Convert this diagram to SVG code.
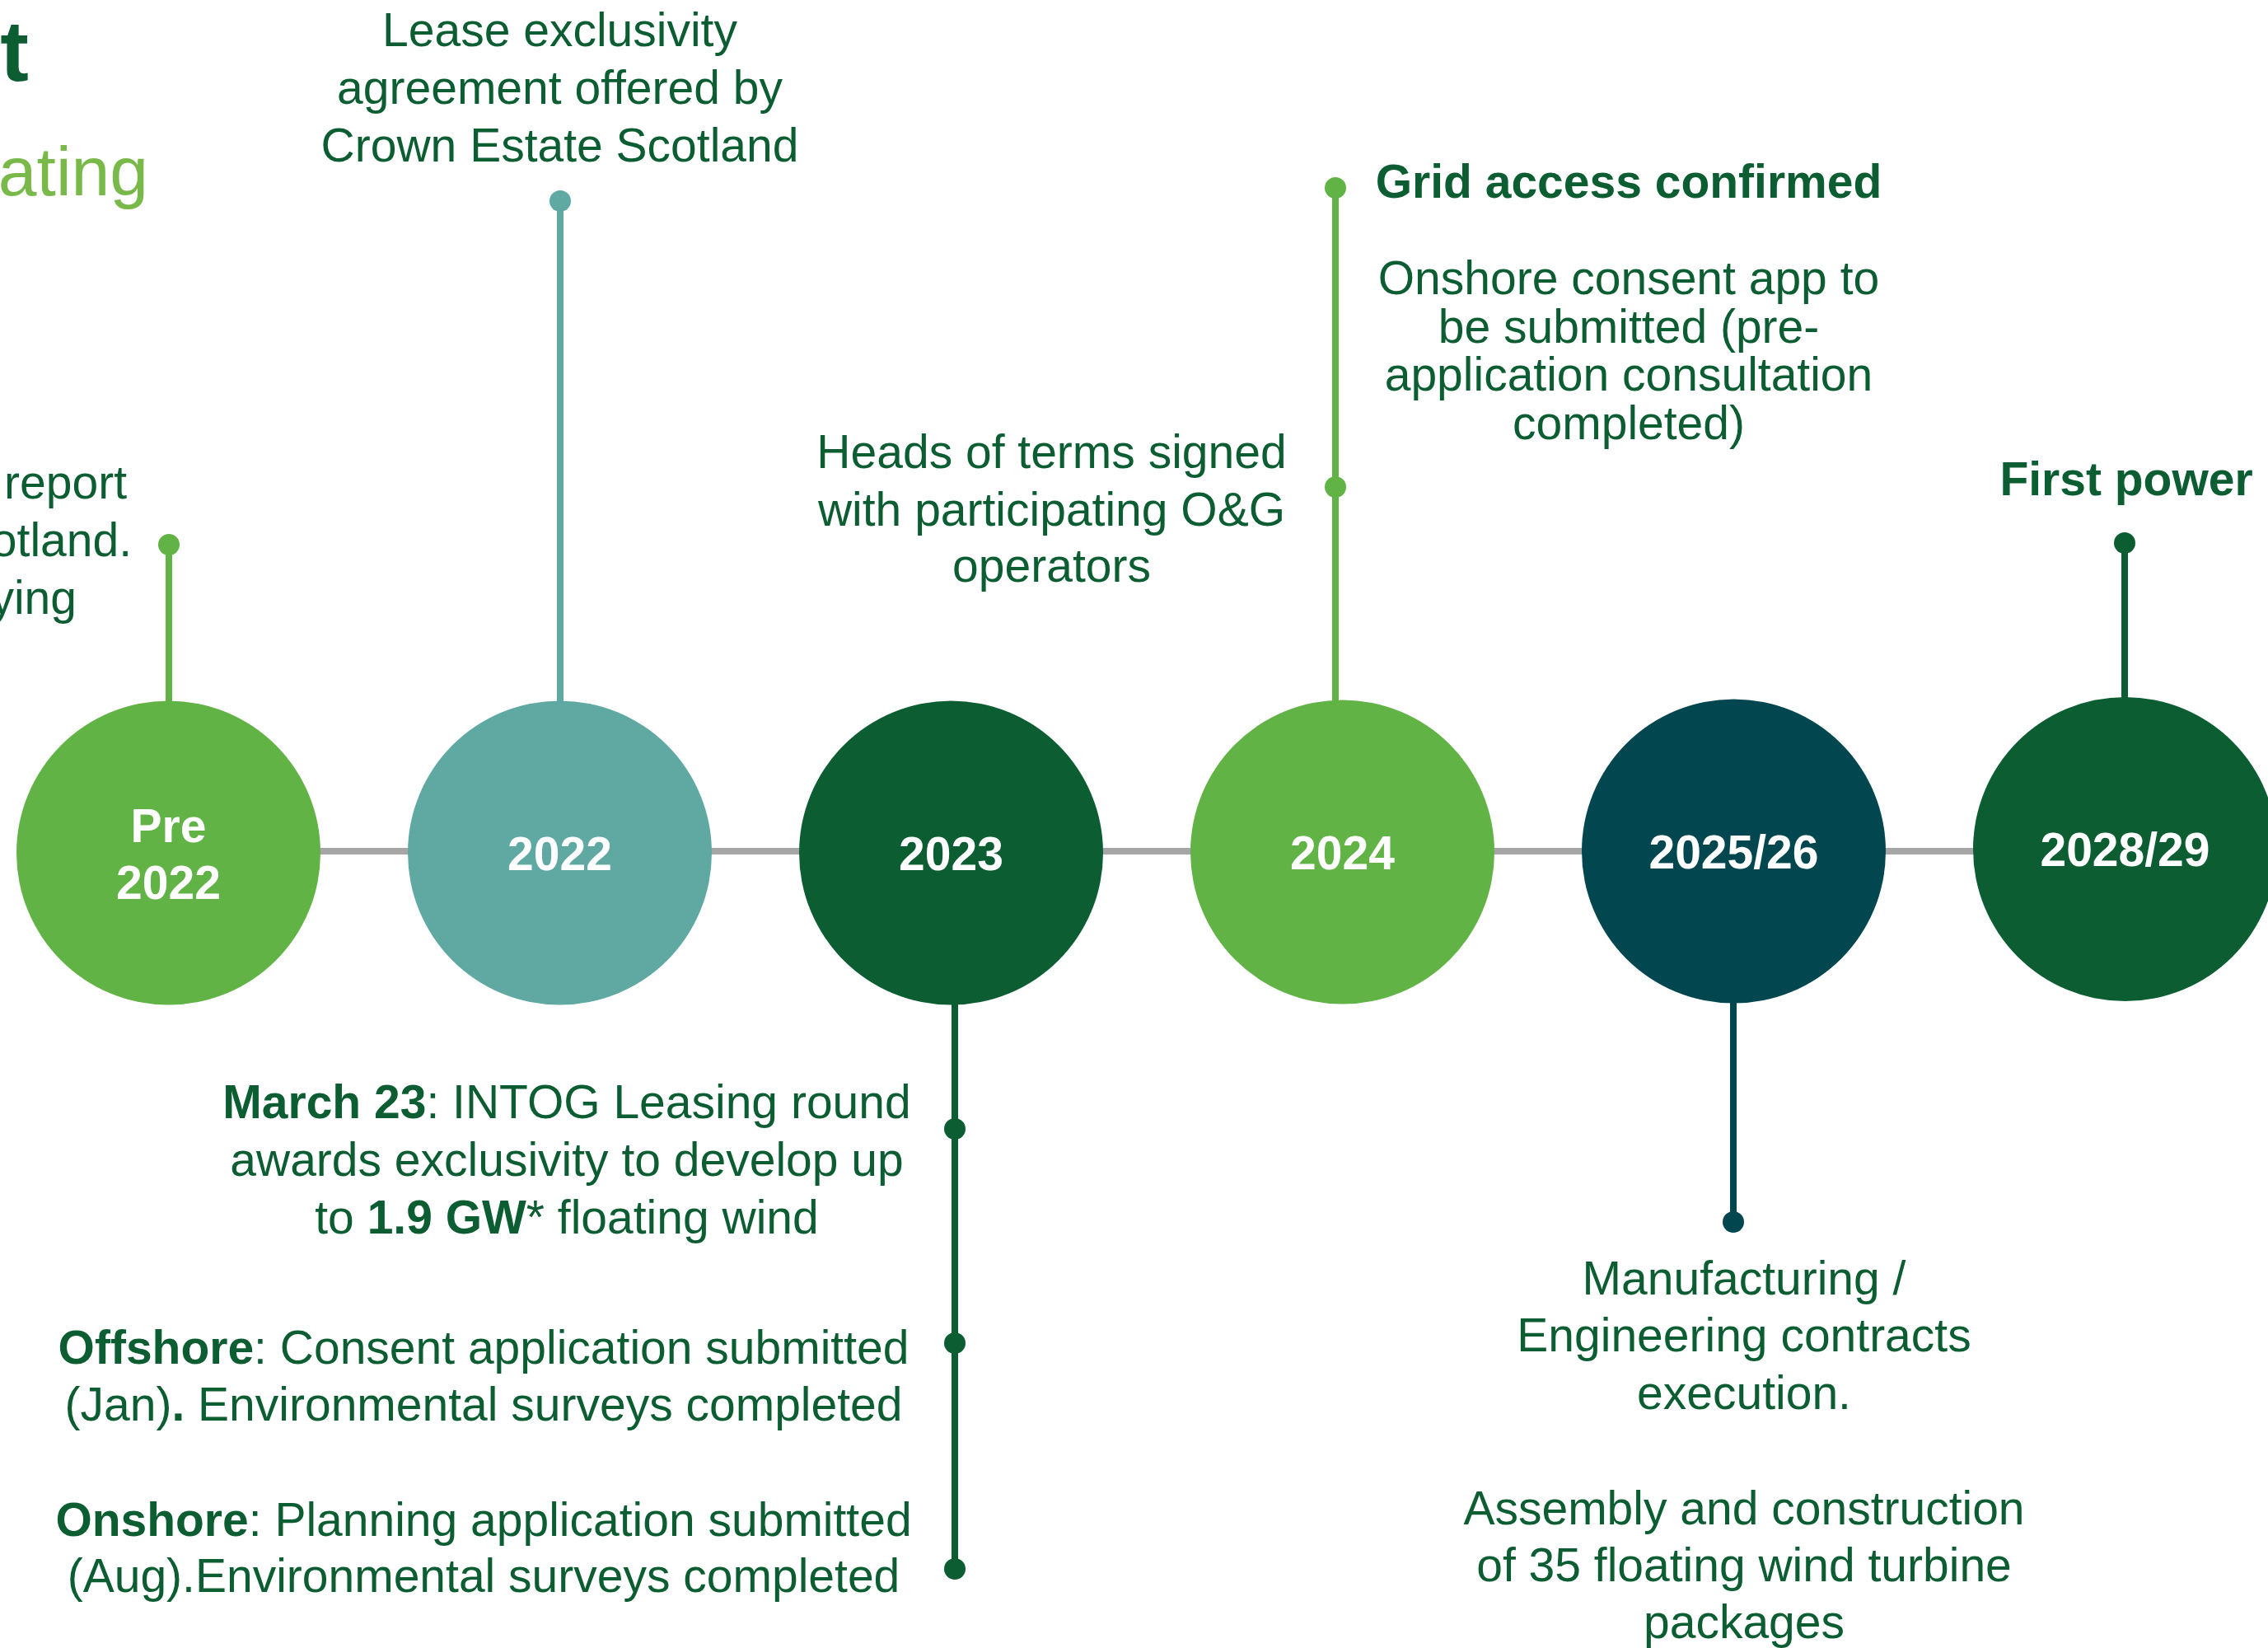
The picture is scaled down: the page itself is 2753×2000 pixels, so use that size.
<svg xmlns="http://www.w3.org/2000/svg" width="2753" height="2000" viewBox="0 0 2753 2000">
<style>
text{font-family:"Liberation Sans",Arial,sans-serif;font-size:57px;fill:#0c5e32}
.c{text-anchor:middle}
.b{font-weight:bold}
.lbl{fill:#ffffff;font-weight:bold;text-anchor:middle}
.lg{fill:#62b346}
.tl{fill:#5fa9a2}
.dg{fill:#0c5e32}
.dt{fill:#02474f}
</style>
<rect width="2753" height="2000" fill="#ffffff"/>
<g id="title">
<text x="35" y="98" text-anchor="end" font-weight="bold" style="font-size:104px">t</text>
<text x="180" y="237" text-anchor="end" style="font-size:84px;fill:#79b94a">ating</text>
</g>
<g id="connectors">
<line x1="204" y1="1033" x2="2579" y2="1033" stroke="#a6a6a6" stroke-width="8"/>
<g stroke-width="8">
<line x1="205" y1="661" x2="205" y2="900" stroke="#62b346"/>
<line x1="680" y1="244" x2="680" y2="900" stroke="#5fa9a2"/>
<line x1="1621" y1="228" x2="1621" y2="900" stroke="#62b346"/>
<line x1="1159" y1="1170" x2="1159" y2="1904" stroke="#0c5e32"/>
<line x1="2104" y1="1170" x2="2104" y2="1483" stroke="#02474f"/>
<line x1="2579" y1="659" x2="2579" y2="900" stroke="#0c5e32"/>
</g>
<circle cx="205" cy="661" r="13" class="lg"/>
<circle cx="680" cy="244" r="13" class="tl"/>
<circle cx="1621" cy="228" r="13" class="lg"/>
<circle cx="1621" cy="591" r="13" class="lg"/>
<circle cx="1159" cy="1370" r="13" class="dg"/>
<circle cx="1159" cy="1630" r="13" class="dg"/>
<circle cx="1159" cy="1904" r="13" class="dg"/>
<circle cx="2104" cy="1483" r="13" class="dt"/>
<circle cx="2579" cy="659" r="13" class="dg"/>
</g>
<g id="node-pre2022">
<circle cx="204.5" cy="1035" r="184.5" class="lg"/>
<text class="lbl" x="204.5" y="1022">Pre</text>
<text class="lbl" x="204.5" y="1091">2022</text>
</g>
<g id="node-2022">
<circle cx="679.5" cy="1035" r="184.5" class="tl"/>
<text class="lbl" x="679.5" y="1056">2022</text>
</g>
<g id="node-2023">
<circle cx="1154.5" cy="1035" r="184.5" class="dg"/>
<text class="lbl" x="1154.5" y="1056">2023</text>
</g>
<g id="node-2024">
<circle cx="1629.5" cy="1034" r="184.5" class="lg"/>
<text class="lbl" x="1629.5" y="1055">2024</text>
</g>
<g id="node-2025-26">
<circle cx="2104.5" cy="1033" r="184.5" class="dt"/>
<text class="lbl" x="2104.5" y="1054">2025/26</text>
</g>
<g id="node-2028-29">
<circle cx="2579.5" cy="1030.5" r="184.5" class="dg"/>
<text class="lbl" x="2579.5" y="1051">2028/29</text>
</g>
<g id="note-pre2022">
<text x="154" y="605" text-anchor="end">report</text>
<text x="160" y="675" text-anchor="end">otland.</text>
<text x="93" y="745" text-anchor="end">ying</text>
</g>
<g id="note-2022">
<text class="c" x="679.5" y="56">Lease exclusivity</text>
<text class="c" x="679.5" y="126">agreement offered by</text>
<text class="c" x="679.5" y="196">Crown Estate Scotland</text>
</g>
<g id="note-2023-up">
<text class="c" x="1276.5" y="568">Heads of terms signed</text>
<text class="c" x="1276.5" y="638">with participating O&amp;G</text>
<text class="c" x="1276.5" y="706">operators</text>
</g>
<g id="note-2024">
<text class="c b" x="1977" y="240">Grid access confirmed</text>
<text class="c" x="1977" y="357">Onshore consent app to</text>
<text class="c" x="1977" y="416">be submitted (pre-</text>
<text class="c" x="1977" y="474">application consultation</text>
<text class="c" x="1977" y="533">completed)</text>
</g>
<g id="note-2028-29">
<text class="c b" x="2581" y="601">First power</text>
</g>
<g id="note-2023-down">
<text class="c" x="688" y="1357"><tspan class="b">March 23</tspan>: INTOG Leasing round</text>
<text class="c" x="688" y="1427">awards exclusivity to develop up</text>
<text class="c" x="688" y="1497">to <tspan class="b">1.9 GW</tspan>* floating wind</text>
<text class="c" x="587" y="1655"><tspan class="b">Offshore</tspan>: Consent application submitted</text>
<text class="c" x="587" y="1724">(Jan)<tspan class="b">.</tspan> Environmental surveys completed</text>
<text class="c" x="587" y="1864"><tspan class="b">Onshore</tspan>: Planning application submitted</text>
<text class="c" x="587" y="1932">(Aug).Environmental surveys completed</text>
</g>
<g id="note-2025-26">
<text class="c" x="2117" y="1571">Manufacturing /</text>
<text class="c" x="2117" y="1640">Engineering contracts</text>
<text class="c" x="2117" y="1710">execution.</text>
<text class="c" x="2117" y="1850">Assembly and construction</text>
<text class="c" x="2117" y="1919">of 35 floating wind turbine</text>
<text class="c" x="2117" y="1988">packages</text>
</g>
</svg>
